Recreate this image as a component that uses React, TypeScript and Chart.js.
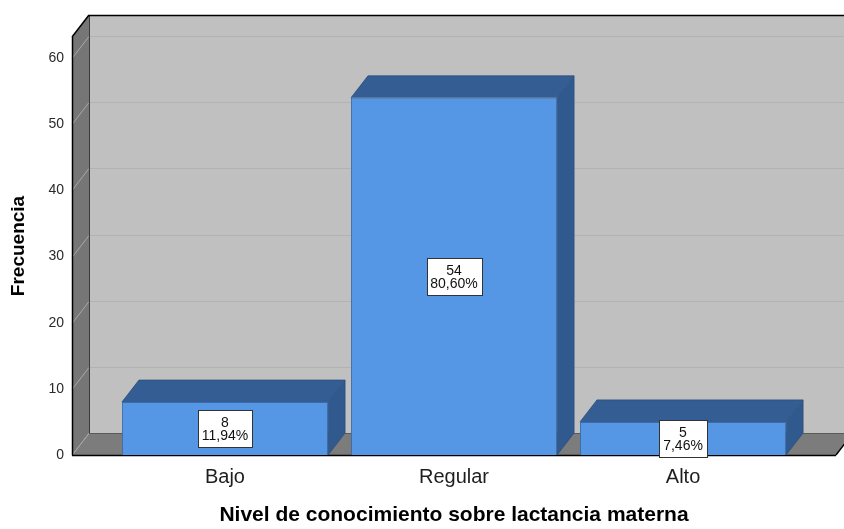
import React, { useEffect, useRef } from 'react';
import { Chart, registerables } from 'chart.js';

Chart.register(...registerables);

// Frequencies by knowledge level
const categories = ['Bajo', 'Regular', 'Alto'];
const frequencies = [8, 54, 5];
const percentLabels = ['11,94%', '80,60%', '7,46%'];
const yTickValues = [0, 10, 20, 30, 40, 50, 60];
const yMax = 63.2;
const xTitle = 'Nivel de conocimiento sobre lactancia materna';
const yTitle = 'Frecuencia';

// 3D extrusion offsets (px) for walls and bar depth
const DEPTH_X = 17;
const DEPTH_Y = -22;

const FONT = '"Liberation Sans", Arial, sans-serif';

const COLORS = {
  backWall: '#c0c0c0',
  sideWall: '#767676',
  floor: '#7c7c7c',
  gridBack: '#b2b2b2',
  gridSide: '#a8a8a8',
  edge: '#000000',
  barFront: '#5596e5',
  barTop: '#345e93',
  barSide: '#30598e',
  barBorder: '#3c6ca8',
};

const line = (ctx: CanvasRenderingContext2D, x1: number, y1: number, x2: number, y2: number, color: string, w = 1) => {
  ctx.beginPath();
  ctx.moveTo(x1, y1);
  ctx.lineTo(x2, y2);
  ctx.strokeStyle = color;
  ctx.lineWidth = w;
  ctx.stroke();
};

const poly = (ctx: CanvasRenderingContext2D, pts: number[][], fill: string) => {
  ctx.beginPath();
  ctx.moveTo(pts[0][0], pts[0][1]);
  for (let i = 1; i < pts.length; i++) ctx.lineTo(pts[i][0], pts[i][1]);
  ctx.closePath();
  ctx.fillStyle = fill;
  ctx.fill();
};

const box3d = {
  id: 'box3d',
  beforeDatasetsDraw(chart: any) {
    const { ctx, chartArea, scales } = chart;
    const { left: L, right: R, top: T, bottom: B } = chartArea;
    const dx = DEPTH_X;
    const dy = DEPTH_Y;
    const y = scales.y;
    ctx.save();

    // back wall
    poly(ctx, [[L + dx, T + dy], [R + dx, T + dy], [R + dx, B + dy], [L + dx, B + dy]], COLORS.backWall);
    // left wall
    poly(ctx, [[L, T], [L + dx, T + dy], [L + dx, B + dy], [L, B]], COLORS.sideWall);
    // floor
    poly(ctx, [[L, B], [L + dx, B + dy], [R + dx, B + dy], [R, B]], COLORS.floor);

    // grid lines on back wall and left wall
    yTickValues.forEach((v) => {
      const py = Math.round(y.getPixelForValue(v)) + 0.5;
      if (v > 0) line(ctx, L + dx, py + dy, R + dx, py + dy, COLORS.gridBack, 1.2);
      line(ctx, L, py, L + dx, py + dy, COLORS.gridSide, 1);
    });

    // edges
    line(ctx, L + dx + 0.5, T + dy, L + dx + 0.5, B + dy, '#3a3a3a', 1);
    line(ctx, L + dx, B + dy + 0.5, R + dx, B + dy + 0.5, '#5a5a5a', 1);
    line(ctx, L + dx, T + dy + 0.5, R + dx, T + dy + 0.5, COLORS.edge, 1.5);
    line(ctx, L, T, L + dx, T + dy, COLORS.edge, 1.5);
    line(ctx, L + 0.5, T, L + 0.5, B, COLORS.edge, 1.5);
    line(ctx, L, B + 0.5, R, B + 0.5, COLORS.edge, 1.5);
    line(ctx, R, B, R + dx, B + dy, COLORS.edge, 1.5);

    // bar top and side faces
    const meta = chart.getDatasetMeta(0);
    meta.data.forEach((el: any) => {
      const bl = el.x - el.width / 2;
      const br = el.x + el.width / 2;
      const bt = el.y;
      const bb = el.base;
      poly(ctx, [[bl, bt], [bl + dx, bt + dy], [br + dx, bt + dy], [br, bt]], COLORS.barTop);
      poly(ctx, [[br, bt], [br + dx, bt + dy], [br + dx, bb + dy], [br, bb]], COLORS.barSide);
      ctx.beginPath();
      ctx.moveTo(bl, bt);
      ctx.lineTo(bl + dx, bt + dy);
      ctx.lineTo(br + dx, bt + dy);
      ctx.lineTo(br + dx, bb + dy);
      ctx.lineTo(br, bb);
      ctx.moveTo(br, bt);
      ctx.lineTo(br + dx, bt + dy);
      ctx.strokeStyle = '#2b4f7e';
      ctx.lineWidth = 0.8;
      ctx.stroke();
    });
    ctx.restore();
  },
  afterDatasetsDraw(chart: any) {
    const { ctx } = chart;
    const meta = chart.getDatasetMeta(0);
    ctx.save();
    ctx.font = `14px ${FONT}`;
    ctx.textAlign = 'center';
    ctx.textBaseline = 'middle';
    meta.data.forEach((el: any, i: number) => {
      const lines = [String(frequencies[i]), percentLabels[i]];
      const w = Math.round(Math.max(...lines.map((t) => ctx.measureText(t).width)) + 8);
      const h = 37;
      const cx = el.x;
      const cy = (el.y + el.base) / 2;
      const x0 = Math.round(cx - w / 2) + 0.5;
      const y0 = Math.round(cy - h / 2) + 0.5;
      ctx.fillStyle = '#ffffff';
      ctx.fillRect(x0, y0, w, h);
      ctx.strokeStyle = '#333333';
      ctx.lineWidth = 1;
      ctx.strokeRect(x0, y0, w, h);
      ctx.fillStyle = '#111111';
      ctx.fillText(lines[0], cx, cy - 5);
      ctx.fillText(lines[1], cx, cy + 7.5);
    });
    ctx.restore();
  },
};

export default function App() {
  const canvasRef = useRef<HTMLCanvasElement | null>(null);

  useEffect(() => {
    if (!canvasRef.current) return;
    const chart = new Chart(canvasRef.current, {
      type: 'bar',
      data: {
        datasets: [
          {
            label: yTitle,
            data: frequencies.map((f, i) => ({ x: i, y: f })),
            backgroundColor: COLORS.barFront,
            borderColor: COLORS.barBorder,
            borderWidth: 1,
            barPercentage: 0.9,
            categoryPercentage: 1,
          },
        ],
      },
      options: {
        responsive: false,
        animation: false,
        devicePixelRatio: 1,
        layout: { padding: { top: 37, right: 8, left: 0, bottom: 0 } },
        plugins: {
          legend: { display: false },
          tooltip: { enabled: false },
        },
        scales: {
          x: {
            type: 'linear',
            min: -0.668,
            max: 2.668,
            offset: false,
            grid: { display: false, drawTicks: false, offset: false },
            border: { display: false },
            afterBuildTicks: (scale: any) => {
              scale.ticks = categories.map((_, i) => ({ value: i }));
            },
            afterFit: (scale: any) => {
              scale.height = 74;
            },
            ticks: {
              padding: 10,
              color: '#1e1e1e',
              font: { family: FONT, size: 20 },
              callback: (v: any) => categories[v] ?? '',
            },
            title: {
              display: true,
              text: xTitle,
              color: '#000000',
              font: { family: FONT, size: 21, weight: 'bold' },
              padding: { top: 0, bottom: 1 },
            },
          },
          y: {
            type: 'linear',
            min: 0,
            max: yMax,
            grid: { display: false, drawTicks: false },
            border: { display: false },
            afterBuildTicks: (scale: any) => {
              scale.ticks = yTickValues.map((v) => ({ value: v }));
            },
            afterFit: (scale: any) => {
              scale.width = 72;
            },
            ticks: {
              padding: 8,
              color: '#2a2a2a',
              font: { family: FONT, size: 14 },
            },
            title: {
              display: true,
              text: yTitle,
              color: '#000000',
              font: { family: FONT, size: 19, weight: 'bold' },
              padding: { top: 7, bottom: 0 },
            },
          },
        },
      },
      plugins: [box3d],
    } as any);
    return () => chart.destroy();
  }, []);

  return (
    <div style={{ position: 'fixed', left: 0, top: 0, width: 844, height: 529, background: '#ffffff' }}>
      <canvas ref={canvasRef} width={844} height={529} style={{ display: 'block' }} />
    </div>
  );
}
